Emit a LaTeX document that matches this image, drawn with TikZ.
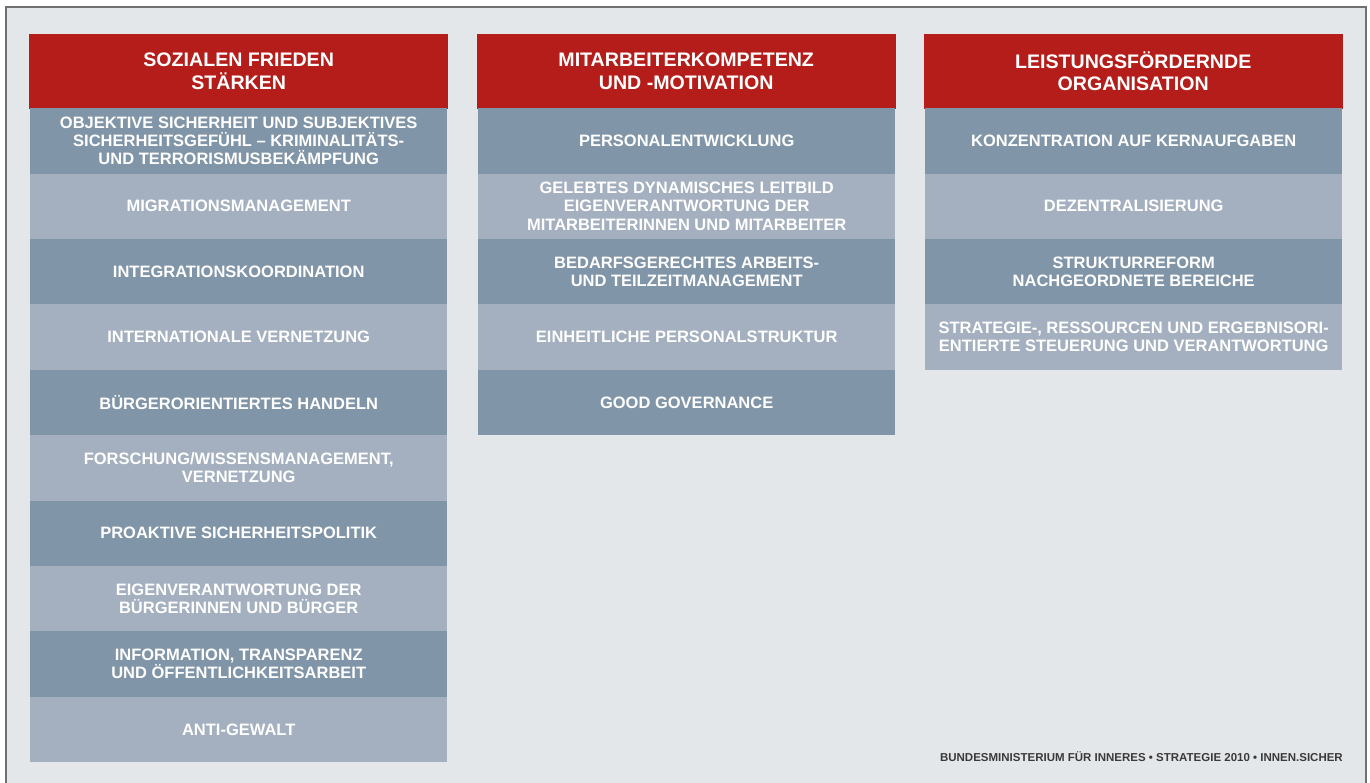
\documentclass[tikz,border=0pt]{standalone}
\usepackage{fontspec}
\setmainfont{Liberation Sans}
\definecolor{bgc}{HTML}{E4E7EA}
\definecolor{framec}{HTML}{707070}
\definecolor{hdrred}{HTML}{B41D19}
\definecolor{rowdark}{HTML}{8195A8}
\definecolor{rowlight}{HTML}{A4B0BF}
\definecolor{footc}{HTML}{3A3A3A}
\begin{document}
\begin{tikzpicture}[x=1pt,y=-1pt,
  hdr/.style={fill=hdrred,text=white,minimum width=419pt,minimum height=75pt,inner sep=0pt,anchor=north west,align=center,font=\fontsize{19.6}{22.4}\selectfont\bfseries},
  cell/.style={text=white,minimum width=417pt,minimum height=65.4pt,inner sep=0pt,anchor=north west,align=center,font=\fontsize{16.5}{18.3}\selectfont\bfseries},
  dk/.style={cell,fill=rowdark},
  lt/.style={cell,fill=rowlight}]
\useasboundingbox (0,0) rectangle (1370,783);
\fill[white] (0,0) rectangle (1370,783);
\fill[bgc] (6,7) rectangle (1366,783);
\draw[framec,line width=2pt] (6,783) -- (6,7) -- (1366,7) -- (1366,783);
% column 1
\node[hdr] (h1) at (29,33.5) {SOZIALEN FRIEDEN\\STÄRKEN};
\node[dk] (a1) at (30,108) {OBJEKTIVE SICHERHEIT UND SUBJEKTIVES\\SICHERHEITSGEFÜHL – KRIMINALITÄTS-\\UND TERRORISMUSBEKÄMPFUNG};
\node[lt] (a2) at (30,173.4) {MIGRATIONSMANAGEMENT};
\node[dk] (a3) at (30,238.8) {INTEGRATIONSKOORDINATION};
\node[lt] (a4) at (30,304.2) {INTERNATIONALE VERNETZUNG};
\node[dk] (a5) at (30,369.6) {BÜRGERORIENTIERTES HANDELN};
\node[lt] (a6) at (30,435) {FORSCHUNG/WISSENSMANAGEMENT,\\VERNETZUNG};
\node[dk] (a7) at (30,500.4) {PROAKTIVE SICHERHEITSPOLITIK};
\node[lt] (a8) at (30,565.8) {EIGENVERANTWORTUNG DER\\BÜRGERINNEN UND BÜRGER};
\node[dk] (a9) at (30,631.2) {INFORMATION, TRANSPARENZ\\UND ÖFFENTLICHKEITSARBEIT};
\node[lt] (a10) at (30,696.6) {ANTI-GEWALT};
% column 2
\node[hdr] (h2) at (476.5,33.5) {MITARBEITERKOMPETENZ\\UND -MOTIVATION};
\node[dk] (b1) at (478,108) {PERSONALENTWICKLUNG};
\node[lt] (b2) at (478,173.4) {GELEBTES DYNAMISCHES LEITBILD\\EIGENVERANTWORTUNG DER\\MITARBEITERINNEN UND MITARBEITER};
\node[dk] (b3) at (478,238.8) {BEDARFSGERECHTES ARBEITS-\\UND TEILZEITMANAGEMENT};
\node[lt] (b4) at (478,304.2) {EINHEITLICHE PERSONALSTRUKTUR};
\node[dk] (b5) at (478,369.6) {GOOD GOVERNANCE};
% column 3
\node[hdr] (h3) at (923.5,33.5) {LEISTUNGSFÖRDERNDE\\ORGANISATION};
\node[dk] (c1) at (925,108) {KONZENTRATION AUF KERNAUFGABEN};
\node[lt] (c2) at (925,173.4) {DEZENTRALISIERUNG};
\node[dk] (c3) at (925,238.8) {STRUKTURREFORM\\NACHGEORDNETE BEREICHE};
\node[lt] (c4) at (925,304.2) {STRATEGIE-, RESSOURCEN UND ERGEBNISORI-\\ENTIERTE STEUERUNG UND VERANTWORTUNG};
% footer
\node[anchor=east,text=footc,inner sep=0pt,font=\fontsize{11.5}{13}\selectfont\bfseries] (foot) at (1343,757) {BUNDESMINISTERIUM FÜR INNERES • STRATEGIE 2010 • INNEN.SICHER};
\end{tikzpicture}
\end{document}
